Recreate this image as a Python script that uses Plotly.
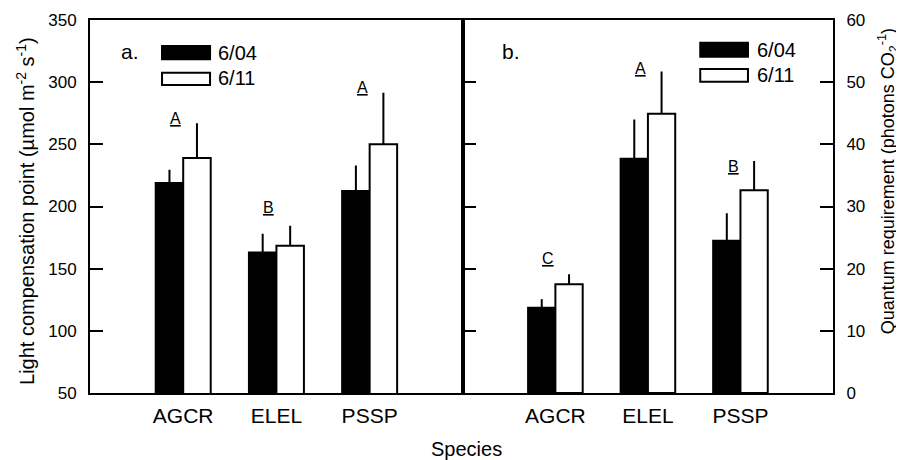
import plotly.graph_objects as go

# ---- data ----
species = ["AGCR", "ELEL", "PSSP"]
dates = ["6/04", "6/11"]

# panel a: light compensation point
lcp_0604 = [219, 163, 212.5]
lcp_0604_err = [10.5, 15, 20.5]
lcp_0611 = [239, 168.5, 250]
lcp_0611_err = [28, 16, 41.5]
letters_a = ["A", "B", "A"]
letters_a_y = [271, 199, 296]

# panel b: quantum requirement
qr_0604 = [13.7, 37.7, 24.5]
qr_0604_err = [1.4, 6.3, 4.4]
qr_0611 = [17.5, 44.9, 32.6]
qr_0611_err = [1.6, 6.8, 4.7]
letters_b = ["C", "A", "B"]
letters_b_y = [21.7, 52.2, 36.5]

# the page body adds an 8px offset; work in screen pixels and convert
OFF = 8
FW, FH = 904 - OFF, 460 - OFF
SL, SR, ST, SB = 90, 832.7, 20, 393          # plot area in screen px
L, R, T, B = SL - OFF, SR - OFF, ST - OFF, SB - OFF
FONT = "Liberation Sans, Arial, sans-serif"

def px(sx):
    return (sx - SL) / (SR - SL)

def py(sy):
    return (SB - sy) / (SB - ST)

fig = go.Figure()

def add_bars(vals, errs, color, name, xa, ya):
    fig.add_trace(go.Bar(
        x=species, y=vals, name=name, xaxis=xa, yaxis=ya,
        marker=dict(color=color, line=dict(color="black", width=2)),
        error_y=dict(type="data", array=errs, arrayminus=[0] * len(errs),
                     symmetric=False, width=0, thickness=2, color="black"),
        showlegend=False,
    ))

add_bars(lcp_0604, lcp_0604_err, "black", dates[0], "x", "y")
add_bars(lcp_0611, lcp_0611_err, "white", dates[1], "x", "y")
add_bars(qr_0604, qr_0604_err, "black", dates[0], "x2", "y2")
add_bars(qr_0611, qr_0611_err, "white", dates[1], "x2", "y2")

split = (462.7 - SL) / (SR - SL)

common_x = dict(type="category", range=[-1, 3], showline=True, linewidth=2,
                linecolor="black", mirror=True, ticks="", showgrid=False,
                automargin=False,
                tickfont=dict(size=21, color="black", family=FONT),
                ticklabelstandoff=3)
common_y = dict(showline=True, linewidth=2, linecolor="black", ticks="inside",
                ticklen=13, tickwidth=2, tickcolor="black", showgrid=False,
                zeroline=False, automargin=False,
                tickfont=dict(size=17, color="black", family=FONT),
                ticklabelstandoff=8)

fig.update_layout(
    width=FW, height=FH,
    margin=dict(l=L, r=FW - R, t=T, b=FH - B, pad=0, autoexpand=False),
    paper_bgcolor="white", plot_bgcolor="white",
    barmode="group", bargap=0.41, bargroupgap=0,
    font=dict(family=FONT, color="black"),
    showlegend=False,
    xaxis=dict(domain=[0, split], anchor="y", **common_x),
    xaxis2=dict(domain=[split, 1], anchor="y2", **common_x),
    yaxis=dict(domain=[0, 1], anchor="x", range=[50, 350], tick0=50, dtick=50,
               mirror=True, **common_y),
    yaxis2=dict(domain=[0, 1], anchor="x2", side="right", range=[0, 60], tick0=0,
                dtick=10, mirror="ticks", **common_y),
)

annotations = []
# significance letters
for i, (t, yy) in enumerate(zip(letters_a, letters_a_y)):
    annotations.append(dict(x=i - 0.08, y=yy, xref="x", yref="y", text=f"<u>{t}</u>",
                            showarrow=False, font=dict(size=16)))
for i, (t, yy) in enumerate(zip(letters_b, letters_b_y)):
    annotations.append(dict(x=i - 0.08, y=yy, xref="x2", yref="y2", text=f"<u>{t}</u>",
                            showarrow=False, font=dict(size=16)))

def paper_text(sx, sy, text, size, xanchor="center", angle=0):
    annotations.append(dict(x=px(sx), y=py(sy), xref="paper", yref="paper", text=text,
                            xanchor=xanchor, yanchor="middle", textangle=angle,
                            showarrow=False, font=dict(size=size)))

# axis titles
paper_text(25, 211, "Light compensation point (µmol m<sup>-2</sup> s<sup>-1</sup>)", 20, angle=-90)
paper_text(888, 181, "Quantum requirement (photons CO<sub>2</sub><sup>-1</sup>)", 18, angle=-90)
paper_text(466, 449, "Species", 20)

# panel labels
paper_text(119, 52, "a.", 21, xanchor="left")
paper_text(500, 52, "b.", 21, xanchor="left")

# legends (drawn manually as wide swatches)
shapes = []
def legend(x0, x1, yb, yw, tx, tyb, tyw):
    shapes.append(dict(type="rect", xref="paper", yref="paper", x0=px(x0), x1=px(x1),
                       y0=py(yb[1]), y1=py(yb[0]), fillcolor="black",
                       line=dict(color="black", width=2)))
    shapes.append(dict(type="rect", xref="paper", yref="paper", x0=px(x0), x1=px(x1),
                       y0=py(yw[1]), y1=py(yw[0]), fillcolor="white",
                       line=dict(color="black", width=2)))
    paper_text(tx, tyb, dates[0], 20, xanchor="left")
    paper_text(tx, tyw, dates[1], 20, xanchor="left")

legend(162, 210, (46, 59.3), (72.7, 85), 216, 53, 78.3)
legend(700, 747.7, (42.7, 56.7), (69, 81.7), 755, 50, 75)

fig.update_layout(annotations=annotations, shapes=shapes)

fig.write_html("out.html")
